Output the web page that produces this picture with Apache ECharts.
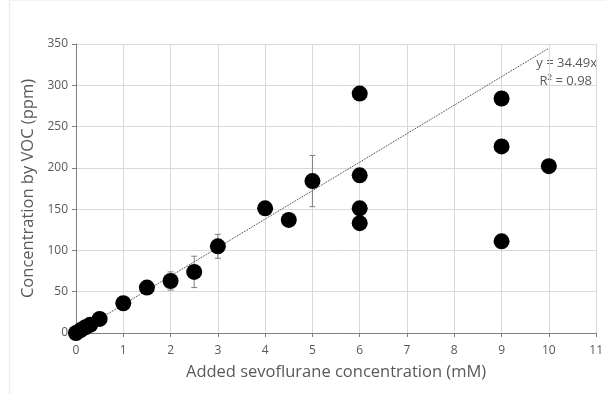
<!DOCTYPE html>
<html><head><meta charset="utf-8">
<script src="https://cdn.jsdelivr.net/npm/echarts@6/dist/echarts.min.js"></script>
<style>html,body{margin:0;padding:0;background:#fff}#c{width:606px;height:394px}</style>
</head><body><div id="c"></div>
<script>
const xValues = [0, 0.1, 0.2, 0.3, 0.5, 1, 1.5, 2, 2.5, 3, 4, 4.5, 5, 6, 6, 6, 6, 9, 9, 9, 10];
const yValues = [0, 3.5, 7, 10, 17, 36, 55, 63, 74, 105, 151, 137, 184, 290, 191, 151, 133, 284, 226, 111, 202];
const errX = [2, 2.5, 3, 5];
const errY = [63, 74, 105, 184];
const errSize = [11, 19, 14.5, 31];
const slope = 34.49;
const trendX = [0, 10];
const eqText = ['y = 34.49x', 'R\u00b2 = 0.98'];

const points = xValues.map((x, i) => [x, yValues[i]]);
const errData = errX.map((x, i) => [x, errY[i] - errSize[i], errY[i] + errSize[i]]);
const trend = trendX.map(x => [x, slope * x]);
const font = '"Open Sans", "Noto Sans", sans-serif';

const chart = echarts.init(document.getElementById('c'));
chart.setOption({
  animation: false,
  backgroundColor: '#fff',
  grid: {left: 76, right: 8.5, top: 44, bottom: 61},
  xAxis: {
    type: 'value', min: 0, max: 11, interval: 1,
    name: 'Added sevoflurane concentration (mM)', nameLocation: 'middle', nameGap: 31,
    nameTextStyle: {fontFamily: font, fontSize: 16.5, color: '#595959'},
    axisLine: {lineStyle: {color: '#7f7f7f', width: 1}},
    axisTick: {show: true, length: 4, lineStyle: {color: '#7f7f7f'}},
    axisLabel: {fontFamily: font, fontSize: 12, color: '#595959', margin: 12},
    splitLine: {lineStyle: {color: '#d9d9d9'}}
  },
  yAxis: {
    type: 'value', min: 0, max: 350, interval: 50,
    name: 'Concentration by VOC (ppm)', nameLocation: 'middle', nameGap: 37,
    nameTextStyle: {fontFamily: font, fontSize: 16.5, color: '#595959'},
    axisLine: {show: true, lineStyle: {color: '#7f7f7f', width: 1}},
    axisTick: {show: true, length: 4, lineStyle: {color: '#7f7f7f'}},
    axisLabel: {fontFamily: font, fontSize: 12, color: '#595959', margin: 8},
    splitLine: {lineStyle: {color: '#d9d9d9'}}
  },
  graphic: [
    {type: 'line', shape: {x1: 9.5, y1: 0, x2: 9.5, y2: 394}, style: {stroke: '#e6edf4', lineWidth: 1.5}, silent: true},
    {type: 'line', shape: {x1: 9.5, y1: 0.5, x2: 606, y2: 0.5}, style: {stroke: '#f0f3f6', lineWidth: 1}, silent: true},
    {type: 'text', right: 9, top: 57, style: {text: eqText[0], font: '13px ' + font, fill: '#595959', textAlign: 'right'}},
    {type: 'text', right: 14, top: 75, style: {text: eqText[1], font: '13px ' + font, fill: '#595959', textAlign: 'right'}}
  ],
  series: [
    {
      type: 'line', data: trend, symbol: 'none', z: 2,
      lineStyle: {color: '#303030', width: 1, type: [1, 1]}
    },
    {
      type: 'custom', z: 3,
      data: errData,
      renderItem: function (params, api) {
        const x = api.value(0);
        const lo = api.coord([x, api.value(1)]);
        const hi = api.coord([x, api.value(2)]);
        const w = 3;
        const st = {stroke: '#7f7f7f', lineWidth: 1};
        return {type: 'group', children: [
          {type: 'line', shape: {x1: lo[0], y1: lo[1], x2: hi[0], y2: hi[1]}, style: st},
          {type: 'line', shape: {x1: lo[0] - w, y1: lo[1], x2: lo[0] + w, y2: lo[1]}, style: st},
          {type: 'line', shape: {x1: hi[0] - w, y1: hi[1], x2: hi[0] + w, y2: hi[1]}, style: st}
        ]};
      }
    },
    {
      type: 'scatter', data: points, symbol: 'circle', symbolSize: 16, z: 4,
      itemStyle: {color: '#000', opacity: 1}
    }
  ]
});
</script></body></html>
